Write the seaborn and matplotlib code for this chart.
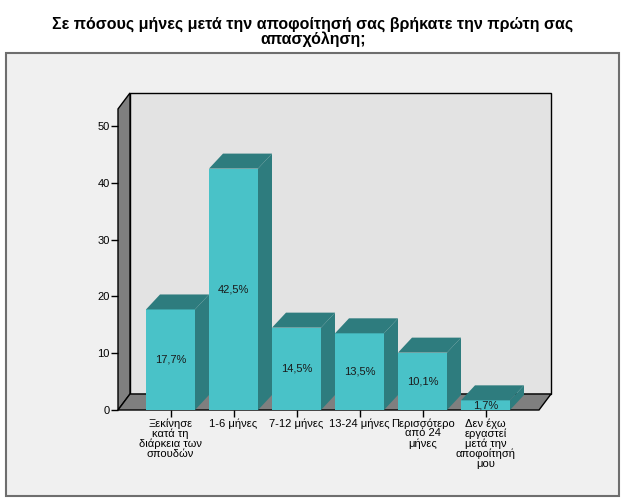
import numpy as np
import pandas as pd
import seaborn as sns
import matplotlib.pyplot as plt
from matplotlib.patches import Polygon, Rectangle

# chart data
categories = ['Ξεκίνησε\nκατά τη\nδιάρκεια των\nσπουδών', '1-6 μήνες', '7-12 μήνες',
              '13-24 μήνες', 'Περισσότερο\nαπό 24\nμήνες',
              'Δεν έχω\nεργαστεί\nμετά την\nαποφοίτησή\nμου']
percents = [17.7, 42.5, 14.5, 13.5, 10.1, 1.7]
y_ticks = [0, 10, 20, 30, 40, 50]
title = 'Σε πόσους μήνες μετά την αποφοίτησή σας βρήκατε την πρώτη σας\nαπασχόληση;'

sns.set_theme(style='white')
plt.rcParams['font.family'] = ['Liberation Sans', 'DejaVu Sans']

W, H = 626, 501
fig = plt.figure(figsize=(W / 100, H / 100), dpi=100)
fig.patch.set_facecolor('white')

# outer grey panel
fig.patches.append(Rectangle((6 / W, 1 - 496 / H), 613 / W, 443 / H,
                             transform=fig.transFigure, facecolor='#f0f0f0',
                             edgecolor='#6e6e6e', linewidth=1.5, zorder=-1))
fig.text(0.5, 1 - 32 / H, title, ha='center', va='center', fontsize=11.5,
         fontweight='bold', linespacing=1.0, color='black')

# pixel -> data mapping: x = 170.5 + 63*i, y = 410 - 5.68*v
px_left, px_right = 118, 600
py_bottom, py_top = 410, 70
ax = fig.add_axes([px_left / W, 1 - py_bottom / H,
                   (px_right - px_left) / W, (py_bottom - py_top) / H])
ax.patch.set_alpha(0)
for s in ax.spines.values():
    s.set_visible(False)

df = pd.DataFrame({'cat': categories, 'pct': percents})
bar_w = 49 / 63
sns.barplot(data=df, x='cat', y='pct', color='#49c2c8', saturation=1, width=bar_w,
            ax=ax, zorder=2)
for p in ax.patches:
    p.set_edgecolor('none')

# seaborn resets limits for categorical axes, so set them afterwards
ax.set_xlim((px_left - 170.5) / 63, (px_right - 170.5) / 63)
ax.set_ylim(0, (py_bottom - py_top) / 5.68)

x0 = (118 - 170.5) / 63
x_floor_r = (539 - 170.5) / 63
wdx, wdy = 12 / 63, 16 / 5.68
top_front = 53.0

wall_kw = dict(edgecolor='black', linewidth=1.0, clip_on=False, joinstyle='miter')
# left wall
ax.add_patch(Polygon([(x0, 0), (x0, top_front), (x0 + wdx, top_front + wdy), (x0 + wdx, wdy)],
                     facecolor='#7f7f7f', zorder=0.5, **wall_kw))
# back wall
ax.add_patch(Polygon([(x0 + wdx, wdy), (x_floor_r + wdx, wdy),
                      (x_floor_r + wdx, top_front + wdy), (x0 + wdx, top_front + wdy)],
                     facecolor='#e3e3e3', zorder=0.4, **wall_kw))
# floor
ax.add_patch(Polygon([(x0, 0), (x_floor_r, 0), (x_floor_r + wdx, wdy), (x0 + wdx, wdy)],
                     facecolor='#7f7f7f', zorder=0.6, **wall_kw))

bdx, bdy = 14 / 63, 15 / 5.68
dark = '#2e7c7e'
for i, v in enumerate(df['pct']):
    l, r = i - bar_w / 2, i + bar_w / 2
    ax.add_patch(Polygon([(r, 0), (r, v), (r + bdx, v + bdy), (r + bdx, bdy)],
                         facecolor=dark, edgecolor='none', zorder=2))
    ax.add_patch(Polygon([(l, v), (r, v), (r + bdx, v + bdy), (l + bdx, v + bdy)],
                         facecolor=dark, edgecolor='none', zorder=2))
    ax.text(i, v / 2, f'{v:.1f}%'.replace('.', ','), ha='center', va='center',
            fontsize=8, color='#1a1a1a', zorder=3)

ax.set_yticks(y_ticks)
ax.set_xlabel('')
ax.set_ylabel('')
ax.tick_params(axis='both', which='both', direction='out', length=5, width=1,
               color='black', labelsize=8, labelcolor='black', pad=1,
               left=True, bottom=True)
ax.set_xticks(range(len(categories)))
ax.set_xticklabels(categories, linespacing=0.95)

fig.savefig('out.png', dpi=100, facecolor=fig.get_facecolor())
